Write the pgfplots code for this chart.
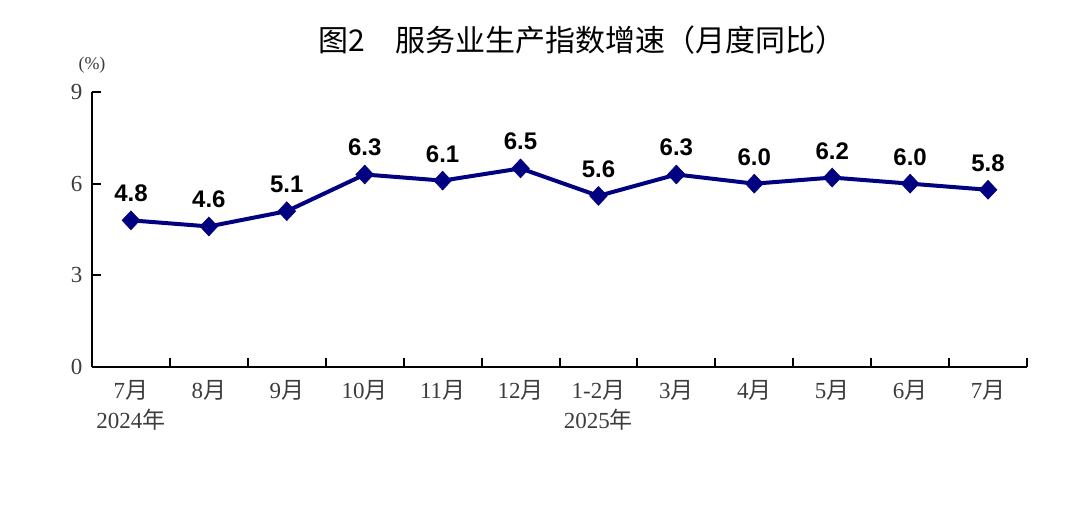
\documentclass[border=0pt]{standalone}
\usepackage{fontspec}
\setmainfont{Liberation Serif}
\newfontfamily\cjk{Noto Sans CJK SC}
\newfontfamily\arial{Liberation Sans}
\usepackage{pgfplots}
\pgfplotsset{compat=1.18}
\definecolor{navyline}{RGB}{0,0,128}
\definecolor{ticktext}{RGB}{60,60,60}
\newcommand{\yue}{{\cjk 月}}
\newcommand{\nian}{{\cjk 年}}
\begin{document}
\begin{tikzpicture}
\path[use as bounding box] (0pt,0pt) rectangle (1080pt,505pt);
\begin{axis}[
  at={(92pt,138pt)}, anchor=south west,
  width=935pt, height=275pt, scale only axis,
  xmin=-0.5, xmax=11.5, ymin=0, ymax=9,
  axis x line=bottom, axis y line=left,
  axis line style={-, line width=2.2pt, black},
  tick align=inside,
  major tick length=9pt,
  tick style={line width=2pt, black},
  xtick={0.5,1.5,2.5,3.5,4.5,5.5,6.5,7.5,8.5,9.5,10.5,11.5},
  xticklabels={},
  extra x ticks={0,1,2,3,4,5,6,7,8,9,10,11},
  extra x tick labels={{7\yue\\2024\nian},{8\yue},{9\yue},{10\yue},{11\yue},{12\yue},{1-2\yue\\2025\nian},{3\yue},{4\yue},{5\yue},{6\yue},{7\yue}},
  extra x tick style={tick style={draw=none}},
  xticklabel style={align=center, font=\fontsize{23}{30}\selectfont, text=ticktext, yshift=-10pt},
  ytick={0,3,6,9},
  yticklabel style={font=\fontsize{23}{26}\selectfont, text=ticktext, xshift=-6pt},
  /pgf/number format/assume math mode=true,
  clip=false,
  nodes near coords={\pgfmathprintnumber[fixed,fixed zerofill,precision=1]{\pgfplotspointmeta}},
  nodes near coords style={font=\arial\bfseries\fontsize{24}{26}\selectfont, anchor=south, inner sep=0pt, yshift=18pt, text=black},
]
\addplot[color=navyline, line width=4pt, mark=diamond*, mark size=9.5pt, mark options={solid, fill=navyline, line width=0.5pt, xscale=1.25}]
  coordinates {(0,4.8) (1,4.6) (2,5.1) (3,6.3) (4,6.1) (5,6.5) (6,5.6) (7,6.3) (8,6.0) (9,6.2) (10,6.0) (11,5.8)};
\end{axis}
\node[font=\fontsize{18}{20}\selectfont, text=ticktext] at (92pt,440pt) {(\%)};
\node[font=\cjk\fontsize{30}{34}\selectfont] at (582pt,465pt) {图2\hspace{1em}服务业生产指数增速（月度同比）};
\end{tikzpicture}
\end{document}
